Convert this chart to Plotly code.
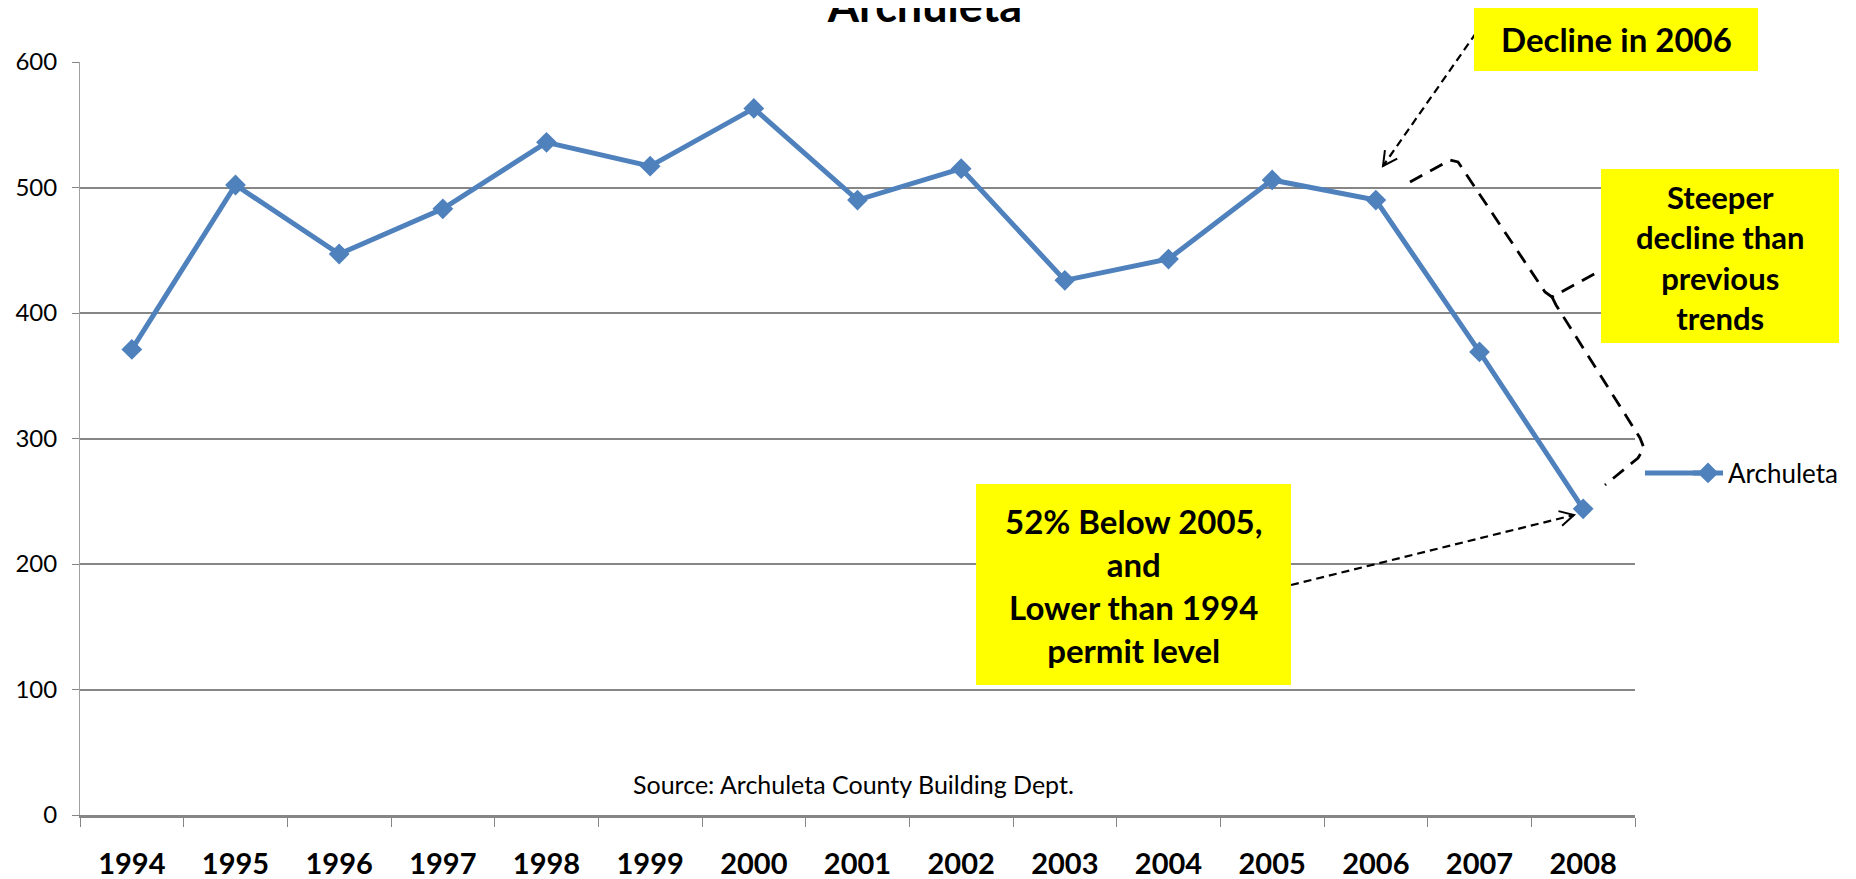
import numpy as np
import plotly.graph_objects as go

# building permits, Archuleta County
years = ["1994", "1995", "1996", "1997", "1998", "1999", "2000", "2001",
         "2002", "2003", "2004", "2005", "2006", "2007", "2008"]
permits = [371, 502, 447, 483, 536, 517, 563, 490, 515, 426, 443, 506, 490, 369, 244]
y_ticks = [0, 100, 200, 300, 400, 500, 600]

# page is drawn with an 8px body margin, so the figure is shifted by that much
OFF = 8
W, H = 1856 - OFF, 879 - OFF
# plot area in page pixels
L, R, T, B = 80, 1635, 62, 815
FONT = "Lato, 'Open Sans', sans-serif"
BLUE = "#4F81BD"
GRID = "#868686"


def px(x):
    return (x - L) / (R - L)


def py(y):
    return (B - y) / (B - T)


def path(points, closed=False):
    s = "M " + " L ".join(f"{px(x):.5f},{py(y):.5f}" for x, y in points)
    return s + (" Z" if closed else "")


def arrowhead(p0, p1, size=16, ang=28):
    d = np.array(p1, float) - np.array(p0, float)
    d = d / np.linalg.norm(d)
    out = []
    for a in (ang, -ang):
        r = np.radians(a)
        rot = np.array([[np.cos(r), -np.sin(r)], [np.sin(r), np.cos(r)]])
        out.append(tuple(np.array(p1) - size * rot @ d))
    return [out[0], tuple(p1), out[1]]


fig = go.Figure()
fig.add_trace(go.Scatter(
    x=years, y=permits, name="Archuleta", mode="lines+markers",
    line=dict(color=BLUE, width=5),
    marker=dict(symbol="diamond", size=16, color=BLUE),
))

shapes = []
# white band behind the brace hides the gridlines
shapes.append(dict(type="path", xref="paper", yref="paper", layer="between",
                   path=path([(1408, 176), (1456, 150), (1654, 448), (1608, 492)], True),
                   fillcolor="white", line=dict(width=0)))

brace_dash = dict(color="black", width=2.8, dash="14px,9px")
arrow_dash = dict(color="black", width=2.2, dash="8px,5px")
# brace
shapes.append(dict(type="path", xref="paper", yref="paper", line=brace_dash,
                   path=path([(1410, 182), (1450, 160), (1458, 162), (1545, 292),
                              (1552, 297), (1596, 273)])))
shapes.append(dict(type="path", xref="paper", yref="paper", line=brace_dash,
                   path=path([(1552, 297), (1556, 305), (1640, 438), (1644, 448),
                              (1638, 458), (1605, 485)])))

# arrows
a1 = [(1476, 33), (1383, 166)]
a2 = [(1291, 585), (1574, 515)]
for a in (a1, a2):
    shapes.append(dict(type="path", xref="paper", yref="paper", line=arrow_dash, path=path(a)))
    shapes.append(dict(type="path", xref="paper", yref="paper",
                       line=dict(color="black", width=2), path=path(arrowhead(*a))))

# yellow boxes
boxes = [(1474, 6, 1758, 71), (1601, 169, 1839, 343), (976, 484, 1291, 685)]
for x0, y0, x1, y1 in boxes:
    shapes.append(dict(type="rect", xref="paper", yref="paper", layer="above",
                       x0=px(x0), x1=px(x1), y0=py(y1), y1=py(y0),
                       fillcolor="#FFFF00", line=dict(width=0)))

# legend sample line, longer than plotly's own
shapes.append(dict(type="line", xref="paper", yref="paper", x0=px(1645), x1=px(1700),
                   y0=py(473), y1=py(473), line=dict(color=BLUE, width=5)))

notes = [
    ("<b>Decline in 2006</b>", 1616, 39, 33),
    ("<b>Steeper<br>decline than<br>previous<br>trends</b>", 1720, 257, 31),
    ("<b>52% Below 2005,<br>and<br>Lower than 1994<br>permit level</b>", 1133, 585, 33),
]
annotations = []
for txt, x, y, size in notes:
    annotations.append(dict(text=txt, x=px(x), y=py(y), xref="paper", yref="paper",
                            showarrow=False, xanchor="center", yanchor="middle",
                            align="center", font=dict(size=size, color="black", family=FONT)))
annotations.append(dict(text="Source: Archuleta County Building Dept.", x=px(853), y=py(801),
                        xref="paper", yref="paper", showarrow=False,
                        font=dict(size=25, color="black", family=FONT)))

fig.update_layout(
    width=W, height=H,
    margin=dict(l=L - OFF, r=W - (R - OFF), t=T - OFF, b=H - (B - OFF), autoexpand=False),
    paper_bgcolor="white", plot_bgcolor="white",
    font=dict(family=FONT, color="black"),
    title=dict(text="<b>Archuleta</b>", x=(925 - OFF) / W, xanchor="center", xref="container",
               y=1 - 14 / H, yref="container", yanchor="bottom",
               font=dict(size=45, color="black", family=FONT)),
    xaxis=dict(type="category", range=[-0.5, 14.5], showgrid=False, automargin=False,
               showline=True, linecolor=GRID, linewidth=2.5,
               ticks="outside", tickson="boundaries", ticklen=9, tickcolor=GRID,
               tickfont=dict(size=29, family=FONT, weight="bold"),
               ticklabelstandoff=21),
    yaxis=dict(range=[0, 600], tickvals=y_ticks, showgrid=True, gridcolor=GRID,
               gridwidth=1.8, zeroline=False, showline=True, linecolor="#A0A0A0",
               linewidth=1, ticks="outside", ticklen=7, tickcolor=GRID, automargin=False,
               tickfont=dict(size=24, family=FONT), ticklabelstandoff=10),
    legend=dict(x=px(1688), y=py(473), xanchor="left", yanchor="middle",
                font=dict(size=26, family=FONT), bgcolor="rgba(0,0,0,0)"),
    showlegend=True,
    shapes=shapes,
    annotations=annotations,
)

fig.write_html("out.html")
